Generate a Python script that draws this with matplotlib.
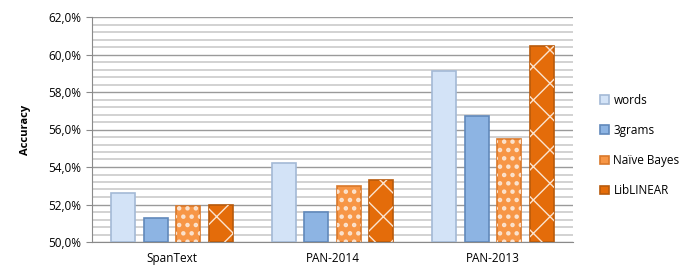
import matplotlib
matplotlib.use("Agg")
import matplotlib.pyplot as plt
import numpy as np
from matplotlib.ticker import MultipleLocator, FuncFormatter

plt.rcParams['font.family'] = ['Open Sans', 'DejaVu Sans']

categories = ["SpanText", "PAN-2014", "PAN-2013"]
series = ["words", "3grams", "Naïve Bayes", "LibLINEAR"]
words = [52.6, 54.2, 59.1]
grams3 = [51.3, 51.6, 56.7]
naive_bayes = [51.9, 53.0, 55.5]
liblinear = [52.0, 53.3, 60.45]
values = [words, grams3, naive_bayes, liblinear]

faces = ["#d3e3f7", "#8db4e3", "#f79646", "#e46c0a"]
edges = ["#a3b9d6", "#6189bb", "#d9782a", "#b85a0c"]
hatches = [None, None, "..", "x"]

fig = plt.figure(figsize=(6.87, 2.70), dpi=100)
ax = fig.add_axes([92 / 687, 28 / 270, 481 / 687, 225 / 270])

x = np.arange(len(categories))
width = 0.15
step = 0.203
for i, (name, vals) in enumerate(zip(series, values)):
    pos = x + (i - 1.5) * step
    ax.bar(pos, np.array(vals) - 50, width, bottom=50, color=faces[i],
           edgecolor=edges[i], linewidth=1.2, zorder=3, label=name)
    if hatches[i]:
        plt.rcParams['hatch.linewidth'] = 1.0 if hatches[i] == "x" else 2.0
        ax.bar(pos, np.array(vals) - 50, width, bottom=50, color="none",
               edgecolor="#fbe3cf", linewidth=0, hatch=hatches[i], zorder=4)

ax.set_ylim(50, 62)
ax.set_xlim(-0.5, 2.5)
ax.yaxis.set_major_locator(MultipleLocator(2))
ax.yaxis.set_minor_locator(MultipleLocator(0.4))
ax.yaxis.set_major_formatter(FuncFormatter(lambda v, p: f"{v:.1f}%".replace(".", ",")))
ax.grid(axis="y", which="major", color="#9a9a9a", linewidth=1.0, zorder=0)
ax.grid(axis="y", which="minor", color="#cfcfcf", linewidth=1.3, zorder=0)
ax.set_axisbelow(True)

ax.set_xticks(x)
ax.set_xticklabels(categories, fontsize=8.5)
ax.tick_params(axis="x", length=0, pad=7)
ax.tick_params(axis="y", which="major", length=4, color="#8a8a8a", labelsize=8.5, pad=4)
ax.tick_params(axis="y", which="minor", length=0)
for s in ["top", "right"]:
    ax.spines[s].set_visible(False)
ax.spines["left"].set_color("#8a8a8a")
ax.spines["bottom"].set_color("#8a8a8a")

ax.set_ylabel("Accuracy", fontsize=8, fontweight="bold", labelpad=12)

ax.legend(loc="center left", bbox_to_anchor=(1.035, 0.43), frameon=False,
          fontsize=8.5, handlelength=0.7, handleheight=0.7, labelspacing=1.45,
          handletextpad=0.4)

fig.savefig("out.png", dpi=100)
